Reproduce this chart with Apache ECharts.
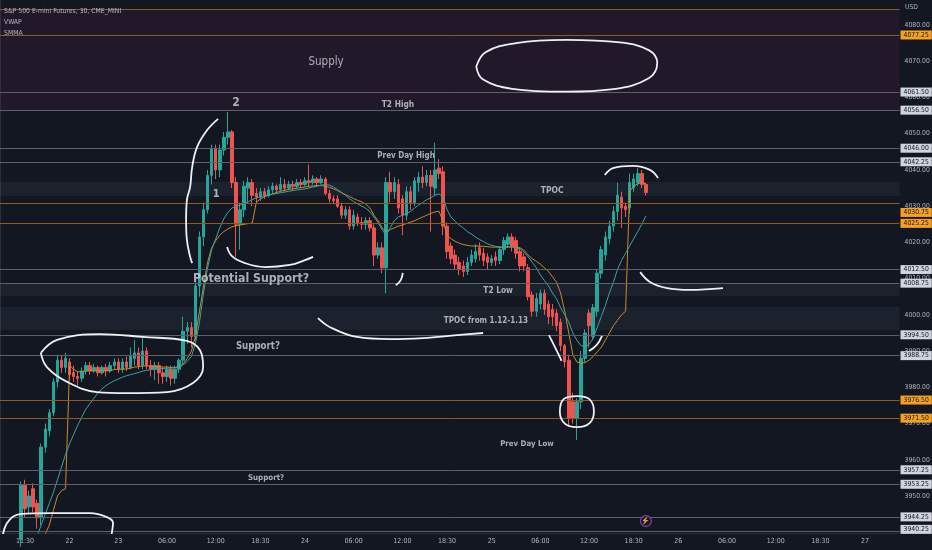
<!DOCTYPE html>
<html>
<head>
<meta charset="utf-8">
<script src="https://cdn.jsdelivr.net/npm/echarts@6/dist/echarts.min.js"></script>
<style>
  html, body { margin: 0; padding: 0; background: #131722; }
  #chart { width: 932px; height: 550px; }
</style>
</head>
<body>
<div id="chart"></div>
<script>
let FONT = "'Liberation Sans Narrow', 'DejaVu Sans Condensed', Roboto, sans-serif";
let SLOT_COUNT = 222;

// x axis: 30 min bar slots, labels at these slot indexes
let tickIndex = [6, 17, 29, 41, 53, 64, 75, 87, 99, 110, 121, 133, 145, 156, 167, 179, 191, 202, 213];
let tickText = ['11:30', '22', '23', '06:00', '12:00', '18:30', '24', '06:00', '12:00', '18:30',
  '25', '06:00', '12:00', '18:30', '26', '06:00', '12:00', '18:30', '27'];
let priceTicks = [3950, 3960, 3970, 3980, 3990, 4000, 4010, 4020, 4030, 4040, 4050, 4060, 4070, 4080];

// [open, close, low, high]
let candles = [
  [3926,3929,3924,3931],[3929,3932,3927,3934],[3932,3931,3928,3935],[3931,3935,3930,3937],[3935,3938,3933,3939],
  [3938,3953,3936,3954],[3953,3946.5,3944,3954.5],[3947,3950,3945,3951.5],[3952,3947,3945.5,3953.5],[3948,3944,3941,3949],
  [3944,3963.5,3942,3964.5],[3963.5,3968.5,3962,3970],[3968,3973,3966.5,3974],[3973,3981.5,3972,3982.5],[3981.5,3987.5,3980,3989],
  [3987.5,3985.5,3984,3989],[3985.5,3988,3984,3989.5],[3987,3983.5,3982,3988],[3984,3983,3981.5,3986],[3983,3982.5,3980.5,3984.5],
  [3982.5,3984.5,3981.5,3985.5],[3984.5,3986,3983.5,3987],[3986,3984.5,3983.5,3987],[3984.5,3985.5,3984,3986.5],[3985.5,3984,3983,3986],
  [3984,3985.5,3983.5,3986],[3985.5,3984.5,3983,3986.5],[3984.5,3986,3984,3987],[3986,3987,3985,3988],[3987,3985,3984,3988],
  [3985,3987,3984,3988],[3987,3985.5,3984.5,3988.5],[3985.5,3988.5,3985,3991],[3988,3989.5,3986,3993],[3989.5,3986,3985,3991],
  [3986,3990,3985,3994.5],[3990,3986,3985,3991],[3986,3985,3983,3987.5],[3985,3986,3982,3987],[3986,3984,3981,3987],
  [3984,3983,3981,3985.5],[3983,3985,3981.5,3986],[3985,3982.5,3980.5,3986],[3982.5,3985,3981,3986],[3985,3987.5,3984,3988],
  [3987.5,3995.5,3986.5,3999.5],[3995.5,3996.5,3992,3998],[3996.5,3994,3991,3998],[3994,4008,3993,4009],[4008,4021.5,4005,4023],
  [4021.5,4029,4019,4031],[4029,4038.5,4028,4040],[4038.5,4046,4036,4047],[4046,4040,4037.5,4047],[4040,4045.5,4038,4047],
  [4045.5,4049,4044,4050.5],[4049,4050.5,4047,4056],[4050.5,4036.5,4035,4051],[4036.5,4025,4016,4038],[4025,4029,4018,4031],
  [4029,4035.5,4027,4037],[4035,4036.5,4031,4038],[4036.5,4033,4030,4037.5],[4033.5,4032.5,4031,4035],[4032.5,4034,4031.5,4035],
  [4034,4033,4032,4035],[4033,4034.5,4032.5,4035.5],[4034.5,4035.5,4033.5,4036.5],[4035.5,4034.5,4033.5,4036],[4034.5,4036,4034,4038],
  [4036,4035,4034,4037.5],[4035,4036,4034.5,4037],[4036,4035.5,4034.5,4037],[4035.5,4036.5,4035,4037.5],[4036.5,4036,4035,4037.5],
  [4036,4037,4035.5,4038],[4037,4036.5,4035.5,4041.5],[4036.5,4037.5,4036,4038.5],[4037.5,4036.5,4035.5,4038],[4036.5,4037.5,4036,4038.5],
  [4037.5,4033.5,4033,4038],[4033.5,4032,4031,4034.5],[4032,4031.5,4030.5,4033],[4032,4030,4029.5,4033],[4030,4027.5,4026.5,4031],
  [4027.5,4029,4026.5,4030],[4029,4024.5,4023.5,4030],[4024.5,4027.5,4023.5,4029],[4027,4025.5,4024.5,4028],[4025.5,4025,4023.5,4027],
  [4025,4026,4023.5,4027],[4026,4024,4023,4027],[4024,4016.5,4013.5,4025],[4016.5,4018.5,4015.5,4020],[4018.5,4013,4011.5,4020],
  [4013,4036.5,4006,4038],[4036.5,4034,4031,4039.5],[4034,4036.5,4032,4038],[4036,4029.5,4028,4037.5],[4032,4027.5,4022,4033],
  [4027.5,4034,4026,4035.5],[4034,4031,4029,4035.5],[4031,4037,4030,4038],[4036.5,4038,4034,4039.5],[4038,4036.5,4035,4041],
  [4036.5,4038.5,4035.5,4040],[4038.5,4035.5,4023,4040],[4035,4040,4033,4047.5],[4040.5,4039,4037.5,4043],[4039.5,4024.5,4022,4041],
  [4024.5,4017.5,4015.5,4025.5],[4019,4015.5,4014,4020],[4016.5,4014,4012.5,4018],[4014.5,4012.5,4011,4016],[4013.5,4012,4010.5,4015],
  [4012,4014.5,4011,4016],[4014.5,4016.5,4013.5,4018],[4015.5,4017.5,4014.5,4019.5],[4018.5,4016.5,4015,4020],[4017,4015,4013.5,4018.5],
  [4016,4014.5,4012.5,4017],[4014.5,4015.5,4013.5,4016.5],[4016,4015,4013.5,4017.5],[4015,4018,4014,4019],[4018,4020.5,4016.5,4021.5],
  [4019.5,4021.5,4018.5,4022.5],[4021.5,4019,4017.5,4022.5],[4020.5,4017,4015.5,4021.5],[4017.5,4013.5,4012,4018.5],[4016,4013.5,4012,4017],
  [4013,4005,4004,4014],[4005.5,4001,3999.5,4006.5],[4001,4004.5,3999.5,4006],[4003,4006,4001.5,4007],[4006,4001.5,4000,4007],
  [4003,3999.5,3997.5,4004],[4001.5,3999.5,3997,4003],[4000.5,3997,3995.5,4001.5],[3998,3991.5,3990,3999],[3991.5,3987,3985.5,3992],
  [3987.5,3971.5,3969,3989],[3976,3971.5,3970,3978.5],[3971.5,3976,3965.5,3977],[3976,3988,3974,3990],[3988,3995,3987,3996],
  [4000.5,3997,3991,4001.5],[3994,4002,3993,4003],[4001,4011.5,3999.5,4012.5],[4011.5,4018,4010,4019],[4016.5,4021.5,4015,4023],
  [4021,4024.5,4019.5,4026],[4024.5,4028.5,4023,4030],[4028.5,4033,4026,4036.5],[4032.5,4029.5,4024,4034],[4030,4029,4027,4031],
  [4029.5,4036.5,4028,4039],[4035,4037.5,4034,4039],[4036.5,4039,4035.5,4040.5],[4039,4036,4035,4040],[4036,4033.75,4033,4036.5]
];

let vwap = [
  3922,3924,3926,3928,3930,3932,3933.5,3935,3936.5,3937.5,
  3938.5,3939.5,3942,3946,3950,3951.5,3952,3986,3985,3984.3,
  3984.3,3984.5,3984.6,3984.6,3984.6,3984.6,3984.6,3984.7,3984.9,3985,
  3985,3985.1,3985.3,3985.6,3985.7,3985.9,3985.9,3985.9,3985.8,3985.7,
  3985.6,3985.6,3985.5,3985.5,3985.7,3986.5,3988,3990,3994,4001,
  4008,4014.5,4018.5,4020.5,4022,4023,4023.7,4024.3,4024.6,4024.8,
  4025,4025.2,4025.3,4031,4032,4032.6,4033,4033.4,4033.8,4034.1,
  4034.4,4034.6,4034.8,4035,4035.1,4035.3,4035.5,4035.6,4035.7,4035.7,
  4035.5,4035.2,4034.8,4034.3,4033.7,4033.2,4032.6,4032.1,4031.6,4031.2,
  4030.5,4029.5,4027.5,4026,4024,4023,4023.5,4024,4024.5,4024.8,
  4025.2,4025.6,4026,4026.5,4027,4027.5,4028,4028.4,4028.6,4026,
  4022,4021,4020.3,4019.8,4019.4,4019.2,4019,4019,4019,4018.9,
  4018.8,4018.7,4018.7,4018.7,4018.7,4018.8,4018.8,4018.7,4018.5,4017.8,
  4016.5,4015.5,4014.8,4014,4013,4012,4010.5,4009,4006,4001,
  3995,3989,3987,3986.7,3986.8,3987.5,3988.5,3989.8,3991,3993,
  3995,3997,3998.5,4000,4001,4034,4035.5,4036.2,4036.5,4036.2
];

let smma = [
  3920,3922,3924,3926,3928,3930,3932,3934,3936.5,3939,
  3942,3945,3948,3951,3954.5,3958,3961.5,3964.5,3967,3969.5,
  3971.8,3974,3975.5,3977,3978.5,3979.6,3980.5,3981.2,3981.8,3982.3,
  3982.8,3983.2,3983.5,3983.8,3984.1,3984.5,3984.7,3984.9,3985,3985.1,
  3985.2,3985.3,3985.3,3985.4,3985.6,3986.2,3987.2,3988.5,3992,3998,
  4006,4013,4018,4021,4024,4026.5,4028.3,4029.5,4030,4030.3,
  4030.8,4031.2,4031.8,4032.3,4032.6,4032.9,4033.1,4033.3,4033.5,4033.7,
  4033.9,4034.1,4034.3,4034.5,4034.6,4034.8,4035,4035.3,4035.5,4035.8,
  4036,4035.8,4035.3,4034.6,4033.8,4033,4032,4031.3,4030.6,4030,
  4029.4,4028.5,4027,4025.5,4023.5,4022,4024,4026,4027,4027.5,
  4028,4028.5,4029.5,4030.3,4031,4031.8,4032.3,4033,4033.4,4032.5,
  4029,4027,4025.8,4024.8,4024,4023,4022.3,4021.5,4020.8,4020.2,
  4019.6,4019.2,4018.9,4018.7,4018.6,4018.7,4018.7,4018.6,4018.2,4017.3,
  4016,4014.5,4013,4011,4009.5,4008,4006,4004.4,4002,4000,
  3998,3995,3993,3991.5,3991.3,3991.8,3993.5,3996.5,3999.5,4002.5,
  4006,4009,4012.5,4015,4017,4019,4021,4023,4025,4027.3
];

// horizontal levels
let grayLevels = [4061.5, 4056.5, 4046, 4042.25, 4012.5, 4008.75, 3994.5, 3988.75, 3957.25, 3953.25, 3944.25, 3940.25];
let orangeLevels = [4077.25, 4030.75, 4025.25, 3976.5, 3971.5];
let supplyTop = 4084.4;
let lastPrice = 4033.75;
let countdown = '24:23';
let supplyZone = [4084.4, 4056.5];
let shadeZones = [[4036.7, 4032.8], [4008.5, 4005.2], [4002.2, 3995.8]];

// text notes: [text, slot, price]
let notes = [
  ['Supply', 80.2, 4069.8],
  ['2', 58.0, 4058.5],
  ['T2 High', 97.9, 4057.9],
  ['Prev Day High', 99.9, 4043.8],
  ['1', 53.1, 4033.3],
  ['TPOC', 135.9, 4034.2],
  ['Potential Support?', 61.7, 4009.9],
  ['T2 Low', 122.6, 4006.6],
  ['TPOC from 1.12-1.13', 119.6, 3998.3],
  ['Support?', 63.4, 3991.4],
  ['Prev Day Low', 129.7, 3964.4],
  ['Support?', 65.4, 3955.0]
];

// hand drawn strokes: [slot, price] points
let supplyRing = [[117.2,4068.5],[119.5,4072.5],[127,4075],[139.3,4075.9],[152.6,4075.2],[159.8,4073],[161.8,4069.5],[159.7,4065.3],[151,4062.3],[139.3,4061.6],[126,4062.4],[118.8,4065],[117.2,4068.5]];
let cornerArc = [[0.3,3937],[1.5,3942.4],[4.8,3945.0],[12.2,3945.3],[22.0,3945.3],[26.2,3944.2],[27.7,3942.6],[27.4,3939.8],[27.0,3937]];
let supportRing = [[9.9,3989.5],[13.9,3993.1],[24.5,3994.7],[35.1,3993.9],[45.9,3992.8],[49.1,3990.3],[49.9,3985.6],[47.4,3981.2],[41.0,3978.7],[31.1,3978.4],[23.7,3978.7],[16.4,3981.5],[11.4,3985.6],[9.9,3989.5]];
let rallyBracket = [[53.6,4054.1],[50.9,4051.0],[48.4,4046.3],[47.2,4040.8],[46.7,4035.3],[45.9,4031.7],[45.7,4026.2],[45.9,4020.7],[46.7,4016.0],[47.2,4014.3]];
let dipArc = [[55.8,4018.7],[57.0,4016.2],[60.2,4014.3],[65.1,4013.2],[71.3,4013.8],[75.0,4015.1],[77.0,4016.0]];
let hook = [[99.1,4011.6],[98.6,4009.6],[97.4,4008.2]];
let tpocArc = [[78.2,3999.1],[81.2,3996.6],[87.8,3993.9],[96.0,3993.3],[104.1,3993.6],[112.5,3994.4],[118.9,3995.0]];
let lowLeft = [[135.1,3994.4],[136.6,3991.1],[137.9,3988.1],[138.2,3987.3]];
let lowRight = [[145.0,3990.0],[146.9,3991.7],[148.2,3994.2]];
let lowRing = [[142.0,3977.6],[145.0,3976.8],[146.2,3973.5],[145.2,3970.2],[142.0,3969.0],[139.1,3969.9],[137.8,3973.2],[138.8,3976.8],[142.0,3977.6]];
let topArc = [[148.9,4038.6],[150.9,4040.5],[155.8,4041.1],[160.0,4040.0],[162.0,4037.8]];
let rightArc = [[157.6,4011.8],[160.0,4009.1],[164.2,4007.4],[169.9,4006.9],[178.0,4007.4]];
let strokes = [supplyRing, cornerArc, supportRing, rallyBracket, dipArc, hook, tpocArc, lowLeft, lowRight, lowRing, topArc, rightArc];

let eventMark = [159.0, 3943.1];

// note font sizes by position in the notes list
let noteSize = [11.5, 12, 8.3, 8, 11, 8.5, 12.2, 8.3, 8, 9.6, 7.8, 7.9];
let noteBold = [false, true, true, true, true, true, true, true, true, true, true, true];
let tagShift = { 4030.75: 9, 3940.25: -2 };

let chart = echarts.init(document.getElementById('chart'));

let slots = Array.from({ length: SLOT_COUNT }, (_, i) => String(i));

function tag(price, bg, fg, lineColor) {
  return {
    yAxis: price,
    lineStyle: { color: lineColor, width: 1, type: 'solid' },
    label: {
      show: true, position: 'end', distance: 1,
      formatter: price.toFixed(2),
      backgroundColor: bg, color: fg,
      padding: [1, 3, 1, 3], fontSize: 6.8, fontFamily: FONT,
      offset: [0, tagShift[price] || 0]
    }
  };
}

let levelLines = [];
levelLines.push({ yAxis: supplyTop, lineStyle: { color: '#8f5a22', width: 1, type: 'solid' }, label: { show: false } });
grayLevels.forEach(p => levelLines.push(tag(p, '#d1d4dc', '#131722', '#5d606b')));
orangeLevels.forEach(p => levelLines.push(tag(p, '#f5a021', '#131722', '#8f5a22')));
levelLines.push({
  yAxis: lastPrice,
  lineStyle: { opacity: 0 },
  label: {
    show: true, position: 'end', distance: 1,
    formatter: lastPrice.toFixed(2) + '\n' + countdown,
    backgroundColor: '#f0525e', color: '#ffffff',
    padding: [2, 3, 1, 3], fontSize: 6.8, lineHeight: 9, fontFamily: FONT,
    offset: [0, 5]
  }
});

let zoneAreas = [[
  { yAxis: supplyZone[0], itemStyle: { color: 'rgba(120, 40, 95, 0.14)' } },
  { yAxis: supplyZone[1] }
]];
shadeZones.forEach(z => zoneAreas.push([
  { yAxis: z[0], itemStyle: { color: 'rgba(190, 200, 230, 0.06)' } },
  { yAxis: z[1] }
]));

let strokeSeries = strokes.map(pts => ({
  type: 'line',
  xAxisIndex: 1,
  data: pts,
  smooth: 0.4,
  symbol: 'none',
  silent: true,
  z: 6,
  lineStyle: { color: '#eef0f4', width: 1.8 }
}));

let noteData = notes.map((n, i) => ({
  value: [n[1], n[2]],
  label: {
    formatter: n[0],
    fontSize: noteSize[i],
    fontWeight: noteBold[i] ? 'bold' : 'normal'
  }
}));

let option = {
  backgroundColor: '#131722',
  animation: false,
  title: [
    {
      text: 'S&P 500 E-mini Futures, 30, CME_MINI\nVWAP\nSMMA',
      left: 4, top: 6, padding: 0,
      textStyle: { color: '#b2b5be', fontSize: 6.8, fontWeight: 'normal', lineHeight: 11, fontFamily: FONT }
    },
    {
      text: 'USD', left: 905, top: 4, padding: 0,
      textStyle: { color: '#b2b5be', fontSize: 6.8, fontWeight: 'normal', fontFamily: FONT }
    }
  ],
  grid: { left: -1.4, right: 32.5, top: 0, bottom: 17, outerBoundsMode: 'none' },
  xAxis: [
    {
      type: 'category',
      data: slots,
      boundaryGap: true,
      axisLine: { show: true, lineStyle: { color: '#2a2e39' } },
      axisTick: { show: false },
      splitLine: { show: false },
      axisLabel: {
        interval: (index) => tickIndex.includes(index),
        formatter: (value, index) => tickText[tickIndex.indexOf(index)] || '',
        color: '#b2b5be', fontSize: 7, margin: 5, fontFamily: FONT
      }
    },
    { type: 'value', min: -0.5, max: SLOT_COUNT - 0.5, show: false }
  ],
  yAxis: {
    type: 'value',
    position: 'right',
    min: 3939.8,
    max: 4086.9,
    splitLine: { show: false },
    axisTick: { show: false },
    axisLine: { show: true, lineStyle: { color: '#2a2e39' } },
    axisLabel: {
      customValues: priceTicks,
      formatter: v => v.toFixed(2),
      color: '#b2b5be', fontSize: 6.8, margin: 5, fontFamily: FONT
    }
  },
  series: [
    {
      type: 'line',
      xAxisIndex: 1,
      data: [],
      silent: true,
      z: 1,
      markArea: { silent: true, data: zoneAreas },
      markLine: { silent: true, symbol: ['none', 'none'], animation: false, data: levelLines }
    },
    {
      type: 'candlestick',
      data: candles,
      barWidth: 3,
      z: 3,
      itemStyle: {
        color: '#26a69a', color0: '#ef5350',
        borderColor: '#26a69a', borderColor0: '#ef5350', borderWidth: 1
      }
    },
    {
      type: 'line', name: 'VWAP', data: vwap, symbol: 'none', z: 4,
      lineStyle: { color: '#c88a2c', width: 1 }
    },
    {
      type: 'line', name: 'SMMA', data: smma, symbol: 'none', z: 4,
      lineStyle: { color: '#3aa3a6', width: 1 }
    },
    ...strokeSeries,
    {
      type: 'scatter',
      xAxisIndex: 1,
      data: noteData,
      symbolSize: 0,
      silent: true,
      z: 7,
      label: { show: true, position: 'inside', color: '#d1d4dc', fontFamily: FONT }
    },
    {
      type: 'scatter',
      xAxisIndex: 1,
      data: [eventMark],
      symbol: 'circle',
      symbolSize: 11,
      silent: true,
      z: 7,
      itemStyle: { color: '#1e1533', borderColor: '#9c4dcc', borderWidth: 1.2 },
      label: { show: true, position: 'inside', formatter: '\u26A1', color: '#b58ae0', fontSize: 7 }
    }
  ]
};

chart.setOption(option);
</script>
</body>
</html>
